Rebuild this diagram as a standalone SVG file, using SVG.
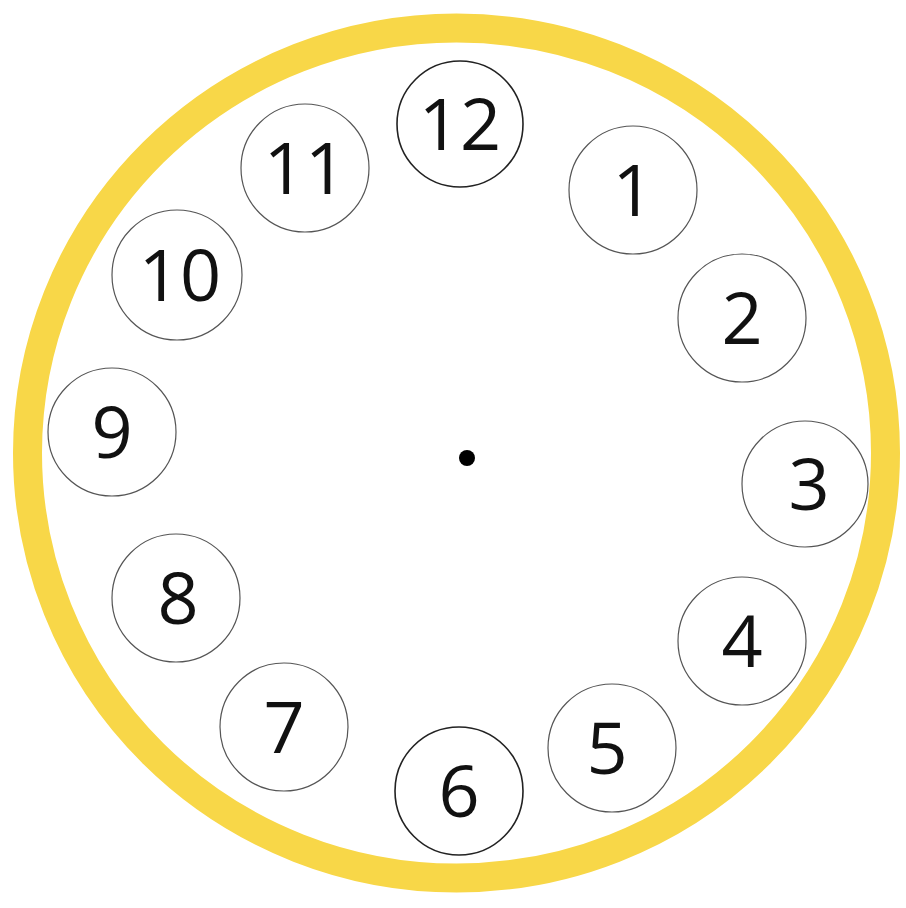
<svg xmlns="http://www.w3.org/2000/svg" width="906" height="908" viewBox="0 0 906 908">
<style>
.face{fill:#fff;stroke:#555;stroke-width:1.2}
.dark{stroke:#222;stroke-width:1.6}
.num{font-family:"Open Sans","Noto Sans",sans-serif;font-size:72px;fill:#111;text-anchor:middle}
</style>
<rect width="906" height="908" fill="#fff"/>
<ellipse id="rim" cx="456.5" cy="453" rx="429" ry="425" fill="none" stroke="#F8D748" stroke-width="29"/>
<circle id="center" cx="467" cy="458" r="8" fill="#000"/>
<g id="h12"><circle class="face dark" cx="460" cy="124" r="63"/><text class="num" x="460" y="150">12</text></g>
<g id="h1"><circle class="face" cx="633" cy="190" r="64"/><text class="num" x="633" y="216">1</text></g>
<g id="h2"><circle class="face" cx="742" cy="318" r="64"/><text class="num" x="742" y="344">2</text></g>
<g id="h3"><circle class="face" cx="805" cy="484" r="63"/><text class="num" x="809" y="510">3</text></g>
<g id="h4"><circle class="face" cx="742" cy="641" r="64"/><text class="num" x="742" y="667">4</text></g>
<g id="h5"><circle class="face" cx="612" cy="748" r="64"/><text class="num" x="607" y="774">5</text></g>
<g id="h6"><circle class="face dark" cx="459" cy="791" r="64"/><text class="num" x="459" y="817">6</text></g>
<g id="h7"><circle class="face" cx="284" cy="727" r="64"/><text class="num" x="284" y="753">7</text></g>
<g id="h8"><circle class="face" cx="176" cy="598" r="64"/><text class="num" x="178" y="624">8</text></g>
<g id="h9"><circle class="face" cx="112" cy="432" r="64"/><text class="num" x="112" y="458">9</text></g>
<g id="h10"><circle class="face" cx="177" cy="275" r="65"/><text class="num" x="180" y="301">10</text></g>
<g id="h11"><circle class="face" cx="305" cy="168" r="64"/><text class="num" x="305" y="194">11</text></g>
</svg>
